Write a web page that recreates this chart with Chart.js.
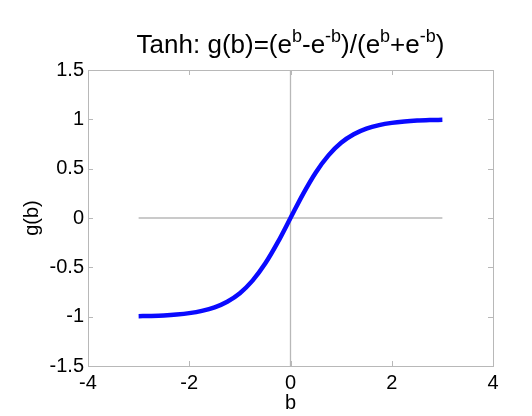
<!DOCTYPE html>
<html>
<head>
<meta charset="utf-8">
<script src="https://cdn.jsdelivr.net/npm/chart.js@4/dist/chart.umd.min.js"></script>
<style>
  html, body { margin: 0; padding: 0; background: #fff; }
  #wrap { width: 532px; height: 416px; }
</style>
</head>
<body>
<div id="wrap"><canvas id="tanhChart" width="532" height="416"></canvas></div>
<script>
// values, b from -3 to 3
const bValues = [-3, -2.75, -2.5, -2.25, -2, -1.75, -1.5, -1.25, -1, -0.75, -0.5, -0.25, 0,
                 0.25, 0.5, 0.75, 1, 1.25, 1.5, 1.75, 2, 2.25, 2.5, 2.75, 3];
const gValues = [-0.995, -0.992, -0.987, -0.978, -0.964, -0.941, -0.905, -0.848, -0.762, -0.635, -0.462, -0.245, 0,
                 0.245, 0.462, 0.635, 0.762, 0.848, 0.905, 0.941, 0.964, 0.978, 0.987, 0.992, 0.995];

// the grey zero lines
const hLineX = [-3, 3];
const hLineY = [0, 0];
const vLineX = [0, 0];
const vLineY = [-1.5, 1.5];

const xTicks = [-4, -2, 0, 2, 4];
const yTicks = [-1.5, -1, -0.5, 0, 0.5, 1, 1.5];

const titleParts = [
    { text: "Tanh: g(b)=(e" }, { text: "b", sup: true },
    { text: "-e" }, { text: "-b", sup: true },
    { text: ")/(e" }, { text: "b", sup: true },
    { text: "+e" }, { text: "-b", sup: true },
    { text: ")" }
];

const FONT = "'Liberation Sans', Arial, sans-serif";
const GREY = "#b8b8b8";

function toPoints(xs, ys) {
    return xs.map((x, i) => ({ x: x, y: ys[i] }));
}

// box round the plot, inward ticks and the title with superscripts
const matlabLook = {
    id: "matlabLook",
    afterDraw(chart) {
        const ctx = chart.ctx;
        const area = chart.chartArea;
        const xs = chart.scales.x;
        const ys = chart.scales.y;
        const tl = 5;
        ctx.save();
        ctx.strokeStyle = GREY;
        ctx.lineWidth = 1;
        ctx.strokeRect(Math.round(area.left) + 0.5, Math.round(area.top) + 0.5,
            Math.round(area.right - area.left), Math.round(area.bottom - area.top));
        ctx.beginPath();
        xTicks.forEach(v => {
            const px = Math.round(xs.getPixelForValue(v)) + 0.5;
            ctx.moveTo(px, area.bottom); ctx.lineTo(px, area.bottom - tl);
            ctx.moveTo(px, area.top); ctx.lineTo(px, area.top + tl);
        });
        yTicks.forEach(v => {
            const py = Math.round(ys.getPixelForValue(v)) + 0.5;
            ctx.moveTo(area.left, py); ctx.lineTo(area.left + tl, py);
            ctx.moveTo(area.right, py); ctx.lineTo(area.right - tl, py);
        });
        ctx.stroke();

        // title
        const big = "26px " + FONT;
        const small = "18px " + FONT;
        let total = 0;
        titleParts.forEach(p => {
            ctx.font = p.sup ? small : big;
            total += ctx.measureText(p.text).width;
        });
        let x = (area.left + area.right) / 2 - total / 2;
        const base = 53;
        ctx.fillStyle = "#000";
        ctx.textBaseline = "alphabetic";
        ctx.textAlign = "left";
        titleParts.forEach(p => {
            ctx.font = p.sup ? small : big;
            ctx.fillText(p.text, x, p.sup ? base - 11 : base);
            x += ctx.measureText(p.text).width;
        });
        ctx.restore();
    }
};

new Chart(document.getElementById("tanhChart"), {
    type: "line",
    data: {
        datasets: [
            {
                data: toPoints(bValues, gValues),
                borderColor: "#0a0aff",
                borderWidth: 4.5,
                pointRadius: 0,
                cubicInterpolationMode: "monotone",
                fill: false
            },
            {
                data: toPoints(hLineX, hLineY),
                borderColor: GREY,
                borderWidth: 1.3,
                pointRadius: 0
            },
            {
                data: toPoints(vLineX, vLineY),
                borderColor: GREY,
                borderWidth: 1.3,
                pointRadius: 0
            }
        ]
    },
    options: {
        responsive: false,
        animation: false,
        layout: { padding: { top: 70, right: 39, left: 0, bottom: 0 } },
        plugins: {
            legend: { display: false },
            title: { display: false },
            tooltip: { enabled: false }
        },
        scales: {
            x: {
                type: "linear",
                min: -4,
                max: 4,
                afterBuildTicks: s => { s.ticks = xTicks.map(v => ({ value: v })); },
                afterFit: s => { s.height = 50; },
                grid: { display: false, drawTicks: false },
                border: { display: false },
                ticks: { color: "#000", padding: 5, maxRotation: 0, callback: v => String(v), font: { family: FONT, size: 20 } },
                title: { display: true, text: "b", color: "#000", padding: { top: 0, bottom: 1 }, font: { family: FONT, size: 20 } }
            },
            y: {
                type: "linear",
                min: -1.5,
                max: 1.5,
                afterBuildTicks: s => { s.ticks = yTicks.map(v => ({ value: v })); },
                afterFit: s => { s.width = 88; },
                grid: { display: false, drawTicks: false },
                border: { display: false },
                ticks: { color: "#000", padding: 4, callback: v => String(v), font: { family: FONT, size: 20 } },
                title: { display: true, text: "g(b)", color: "#000", padding: { top: 20, bottom: 0 }, font: { family: FONT, size: 20 } }
            }
        }
    },
    plugins: [matlabLook]
});
</script>
</body>
</html>
